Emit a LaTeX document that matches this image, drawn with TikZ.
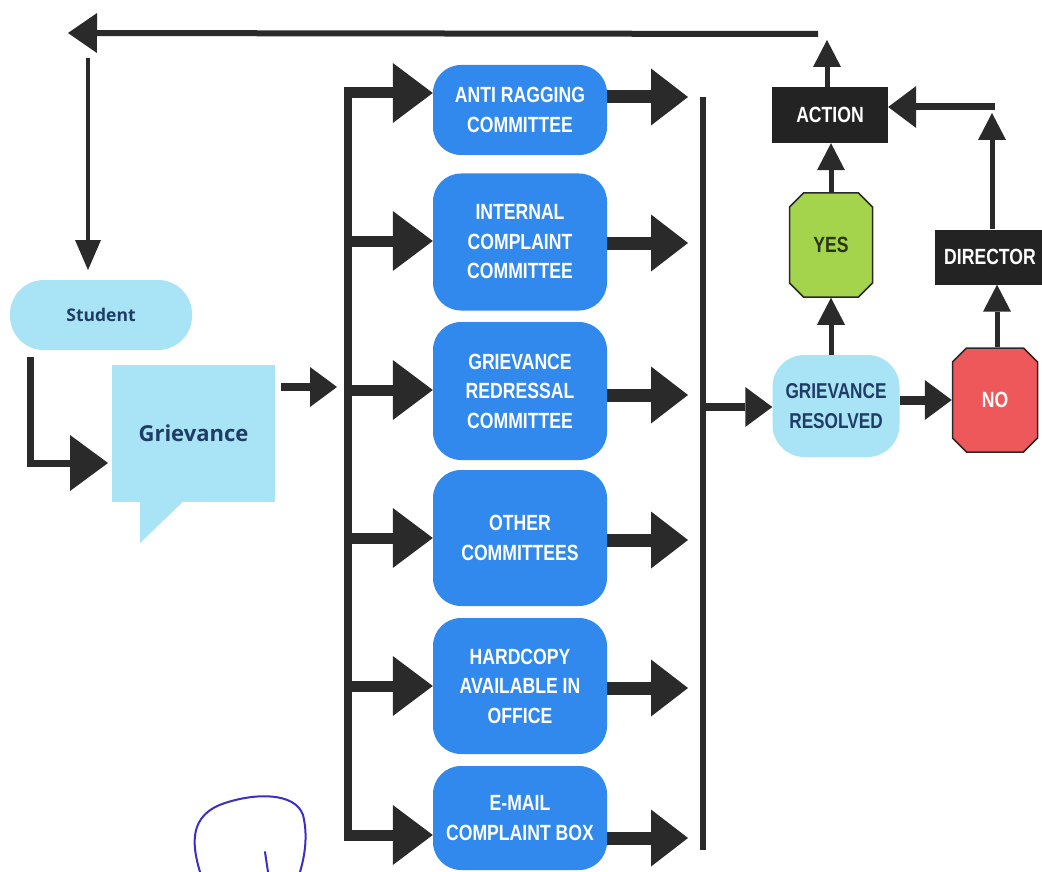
\documentclass[tikz,border=0pt]{standalone}
\usepackage{fontspec}
\setmainfont{Liberation Sans}
\newfontfamily\condf{Liberation Sans}[FakeStretch=0.8]
\newfontfamily\opensf{Open Sans}
\usetikzlibrary{arrows.meta,shapes.misc,backgrounds}
\definecolor{commblue}{HTML}{3189EE}
\definecolor{lightblue}{HTML}{A9E3F6}
\definecolor{textblue}{HTML}{1F3C66}
\definecolor{ink}{HTML}{2A2A2A}
\definecolor{boxblack}{HTML}{232323}
\definecolor{yesgreen}{HTML}{A4D34C}
\definecolor{nored}{HTML}{EF585B}
\definecolor{pen}{HTML}{3A2FC4}
\begin{document}
\begin{tikzpicture}[x=1pt,y=-1pt,
  comm/.style={rectangle, rounded corners=28pt, fill=commblue, text=white,
    minimum width=174pt, align=center, inner sep=0pt,
    font=\condf\bfseries\fontsize{22}{29.5}\selectfont},
  pill/.style={rectangle, fill=lightblue, text=textblue, align=center, inner sep=0pt},
  blackbox/.style={rectangle, fill=boxblack, text=white, inner sep=0pt,
    font=\condf\bfseries\fontsize{22}{24}\selectfont},
  chamf/.style={chamfered rectangle, chamfered rectangle xsep=7pt,
    chamfered rectangle ysep=7pt, draw=ink, line width=1.5pt, inner sep=0pt,
    font=\condf\bfseries\fontsize{22}{24}\selectfont},
  fat/.style n args={3}{draw=ink, line width=#1, line join=miter,
    -{Triangle[length=#2,width=#3,line width=0pt]}},
  br/.style={fat={11pt}{40pt}{60pt}},
  rt/.style={fat={13pt}{37pt}{57pt}},
  mid/.style={fat={8pt}{27pt}{40pt}},
  upa/.style={fat={5pt}{27pt}{28pt}},
  bus/.style={draw=ink, line width=7pt}
]
\useasboundingbox (0,0) rectangle (1042,872);

% committee boxes
\node[comm, minimum height=90pt]  (c1) at (520,110) {ANTI RAGGING\\COMMITTEE};
\node[comm, minimum height=137pt] (c2) at (520,242) {INTERNAL\\COMPLAINT\\COMMITTEE};
\node[comm, minimum height=138pt] (c3) at (520,391) {GRIEVANCE\\REDRESSAL\\COMMITTEE};
\node[comm, minimum height=136pt] (c4) at (520,538) {OTHER\\COMMITTEES};
\node[comm, minimum height=136pt] (c5) at (520,686) {HARDCOPY\\AVAILABLE IN\\OFFICE};
\node[comm, minimum height=104pt] (c6) at (520,818) {E-MAIL\\COMPLAINT BOX};

% student and grievance
\node[pill, rounded corners=34pt, minimum width=182pt, minimum height=70pt,
  font=\opensf\bfseries\fontsize{17.5}{20}\selectfont] (stu) at (101,315) {Student};
\fill[lightblue] (140,495) -- (140,543) -- (190,495) -- cycle;
\node[pill, minimum width=163pt, minimum height=137pt,
  font=\opensf\bfseries\fontsize{22}{26}\selectfont] (gri) at (193.5,433.5) {Grievance};

% right side
\node[pill, rounded corners=32pt, minimum width=127pt, minimum height=102pt,
  font=\condf\bfseries\fontsize{21.5}{30}\selectfont] (res) at (836,406) {GRIEVANCE\\RESOLVED};
\node[chamf, fill=nored, text=white, minimum width=85pt, minimum height=104pt] (no) at (995,400) {NO};
\node[chamf, fill=yesgreen, text={yesgreen!25!black}, minimum width=83pt, minimum height=104pt] (yes) at (831,245) {YES};
\node[blackbox, minimum width=116pt, minimum height=56pt] (act) at (830,115) {ACTION};
\node[blackbox, minimum width=110pt, minimum height=55pt] (dir) at (990,257) {DIRECTOR};

% coordinates
\coordinate (Lt) at (348,89);
\coordinate (Lb) at (348,839);
\coordinate (L1) at (344,93);
\coordinate (L2) at (344,241);
\coordinate (L3) at (344,390);
\coordinate (L4) at (344,538);
\coordinate (L5) at (344,686);
\coordinate (L6) at (344,835);
\coordinate (Rt) at (703,97);
\coordinate (Rb) at (703,850);
\coordinate (R1) at (688,97);
\coordinate (R2) at (688,243);
\coordinate (R3) at (688,395);
\coordinate (R4) at (688,540);
\coordinate (R5) at (688,688);
\coordinate (R6) at (688,838);
\coordinate (Rm) at (703,407);
\coordinate (Gin) at (337,387);
\coordinate (topR) at (818,34);
\coordinate (topL) at (68,33);
\coordinate (dTop) at (88,58);
\coordinate (dTip) at (88,270);
\coordinate (sTop) at (30,357);
\coordinate (sTip) at (108,463);
\coordinate (actUp) at (827,40);
\coordinate (dirUp) at (992,113);
\coordinate (dirCorner) at (995,107);

\begin{scope}[on background layer]
\fill[white] (0,0) rectangle (1042,872);
% left bus
\draw[bus, line width=8pt] (Lt) -- (Lb);
\foreach \i in {1,...,6} {
  \draw[br] (L\i) -- (L\i -| c\i.west);
}
% right arrows
\foreach \i in {1,...,6} {
  \draw[rt] ([xshift=-20pt]c\i.east |- R\i) -- (R\i);
}
\draw[bus, line width=6pt] (Rt) -- (Rb);
\end{scope}

% grievance to bus
\draw[mid] (gri.east |- Gin) ++(6,0) -- (Gin);
% student to grievance
\draw[fat={7pt}{38pt}{56pt}] (sTop) |- (sTip);
% right bus to resolved
\draw[mid] (Rm) -- (Rm -| res.west) ;
% resolved to no
\draw[fat={9pt}{27pt}{40pt}] (res.east |- no.west) -- (no.west);
% up arrows
\draw[upa] (yes.south |- res.north) -- (yes.south);
\draw[upa] (yes.north) -- (yes.north |- act.south);
\draw[upa] (act.north -| actUp) -- (actUp);
\draw[upa] (no.north -| 997,0) -- (dir.south -| 997,0);
\draw[upa] (dir.north -| dirUp) -- (dirUp);
\draw[fat={7pt}{28pt}{42pt}] (dirCorner) -- (dirCorner -| act.east);
% top return line
\draw[fat={6pt}{29pt}{40pt}] (topR) -- (topL);
\draw[fat={4pt}{30pt}{26pt}] (dTop) -- (dTip);

% handwritten mark
\draw[pen, line width=2pt, line cap=round]
  (200,872) .. controls (192,845) and (188,815) .. (225,803)
  .. controls (255,793) and (295,792) .. (303,815)
  .. controls (308,835) and (305,855) .. (300,872);
\draw[pen, line width=2pt, line cap=round] (265,852) -- (268,872);
\end{tikzpicture}
\end{document}
